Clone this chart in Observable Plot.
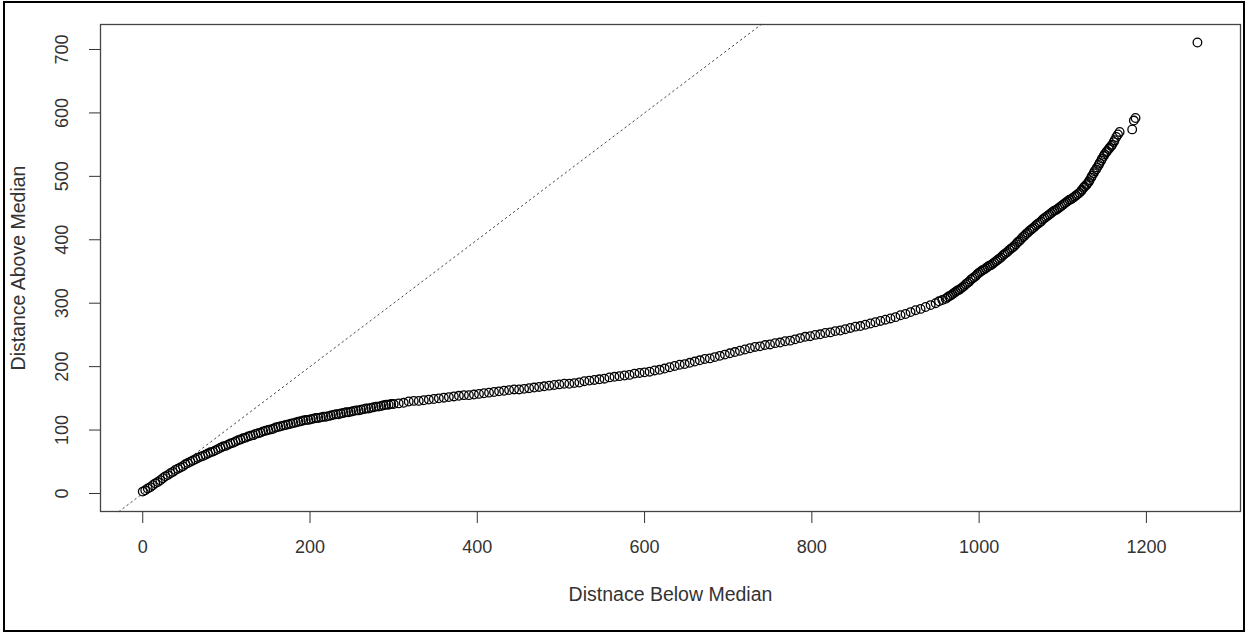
<!DOCTYPE html>
<html>
<head>
<meta charset="utf-8">
<script src="https://cdn.jsdelivr.net/npm/d3@7"></script>
<script src="https://cdn.jsdelivr.net/npm/@observablehq/plot@0.6"></script>
<style>
  html, body { margin: 0; padding: 0; background: #fff; }
  #wrap { position: relative; width: 1247px; height: 632px; overflow: hidden; }
  #outer { position: absolute; left: 3px; top: 1px; width: 1242px; height: 631px; box-sizing: border-box; border: 2px solid #000; pointer-events: none; }
</style>
</head>
<body>
<div id="wrap"><div id="chart"></div><div id="outer"></div></div>
<script>
// Distance below median (x) and distance above median (y)
const below = [
  0,6,12,18,24,30,36,42,48,54,60,66,72,78,84,90,96,102,108,114,120,126,132,138,144,150,156,162,168,174,
  180,186,192,198,204,210,216,222,228,234,240,246,252,258,264,270,276,282,288,294,300,306,312,318,324,330,336,342,348,354,
  360,366,372,378,384,390,396,402,408,414,420,426,432,438,444,450,456,462,468,474,480,486,492,498,504,510,516,522,528,534,
  540,546,552,558,564,570,576,582,588,594,600,606,612,618,624,630,636,642,648,654,660,666,672,678,684,690,696,702,708,714,
  720,726,732,738,744,750,756,762,768,774,780,786,792,798,804,810,816,822,828,834,840,846,852,858,864,870,876,882,888,894,
  900,906,912,918,924,930,936,942,948,952,956,960,964,968,972,976,980,984,988,992,996,1000,1004,1008,1012,1016,1020,1024,1028,1032,
  1036,1040,1044,1048,1052,1056,1060,1064,1068,1072,1076,1080,1084,1088,1092,1096,1100,1104,1108,1112,1116,1120,1123,1126,1129,1132,1135,1138,1141,1144,
  1147,1150,1153,1156,1159,1162,1164,1166,1168,1183,1185,1187,1261
];
const above = [
  3,8,13,18,24,29,34,39,43,48,52,56,59,63,66,70,74,77,80,84,87,90,92,95,98,100,102,105,107,109,
  111,113,115,116,118,119,121,122,124,125,127,128,130,131,133,134,136,137,139,140,141,142,143,145,146,146,147,148,149,150,
  151,152,153,154,155,155,156,157,158,159,160,161,162,163,164,164,165,166,167,168,169,170,171,172,173,173,174,175,177,178,
  179,180,181,183,184,185,186,187,189,190,191,192,194,195,197,199,201,203,204,206,208,210,212,213,215,217,219,221,223,225,
  227,229,231,232,234,235,237,238,240,241,243,245,247,248,250,251,253,254,256,257,259,261,263,264,266,268,270,272,274,276,
  278,281,283,286,289,291,294,297,300,303,305,307,311,314,318,321,325,330,334,339,343,348,352,355,359,362,366,370,375,379,
  384,388,393,398,404,409,414,418,423,427,432,436,440,444,447,451,455,459,463,466,470,474,479,484,488,494,501,508,514,521,
  528,535,540,545,550,557,562,566,570,574,588,592,711
];
// Additional pairs where the reference band is densest (near the origin and on the steep upper part)
const belowDense = [
  3,9,15,21,27,33,39,45,51,57,63,69,75,81,87,93,99,105,111,117,123,129,135,141,147,153,159,165,171,177,
  183,189,195,201,207,213,219,225,231,237,243,249,255,261,267,273,279,285,291,297,
  962,966,970,974,978,982,986,990,994,998,1002,1006,1010,1014,1018,1022,1026,1030,1034,1038,1042,1046,1050,1054,1058,
  1062,1066,1070,1074,1078,1082,1086,1090,1094,1098,1102,1106,1110,1114,1118,1122,1125,1128,1131,1134,1137,1140,1143,1146,1149,
  1152,1155,1158,1161
];
const aboveDense = [
  5,10,16,21,27,32,37,41,46,50,54,58,61,65,68,72,75,79,82,85,88,91,94,96,99,101,104,106,108,110,
  112,114,116,117,119,120,121,123,125,126,128,129,131,132,134,135,137,138,140,141,
  309,312,316,320,323,327,332,337,341,346,350,353,357,360,364,368,372,377,381,386,390,396,401,406,411,
  416,420,425,429,434,438,442,446,449,453,457,461,464,468,472,477,482,486,491,498,505,511,518,525,532,
  538,543,548,554
];
const xTicks = [0, 200, 400, 600, 800, 1000, 1200];
const yTicks = [0, 100, 200, 300, 400, 500, 600, 700];
const xTitle = "Distnace Below Median";
const yTitle = "Distance Above Median";
const diagonal = [-28.4, 739.4]; // reference line y = x

const pts = below.map((b, i) => ({below: b, above: above[i]}))
  .concat(belowDense.map((b, i) => ({below: b, above: aboveDense[i]})));

const chart = Plot.plot({
  width: 1247,
  height: 632,
  marginLeft: 100,
  marginRight: 7,
  marginTop: 24,
  marginBottom: 121,
  style: {
    background: "transparent",
    fontSize: "18px",
    fontFamily: "'Liberation Sans', Arial, sans-serif",
    color: "#333"
  },
  x: {domain: [-50.5, 1312.5], ticks: xTicks, tickSize: 12, tickPadding: 17, tickFormat: "d", label: null},
  y: {domain: [-28.4, 739.4], ticks: yTicks, tickSize: 11, tickFormat: () => "", label: null},
  marks: [
    Plot.frame({stroke: "#444", strokeWidth: 1.3}),
    Plot.line(diagonal, {x: d => d, y: d => d, stroke: "#444", strokeWidth: 1, strokeDasharray: "1.5,3.5"}),
    Plot.dot(pts, {x: "below", y: "above", r: 4.3, stroke: "#000", strokeWidth: 1.3, fill: "none"}),
    Plot.text(yTicks, {y: d => d, text: d => String(d), frameAnchor: "left", dx: -38, rotate: -90,
      textAnchor: "middle", lineAnchor: "middle", fontSize: 18, fill: "#333"}),
    Plot.text([xTitle], {text: d => d, frameAnchor: "bottom", dy: 83, textAnchor: "middle", lineAnchor: "middle", fontSize: 19.5, fill: "#333"}),
    Plot.text([yTitle], {text: d => d, frameAnchor: "left", dx: -82, rotate: -90, textAnchor: "middle", lineAnchor: "middle", fontSize: 19.5, fill: "#333"})
  ]
});
document.getElementById("chart").appendChild(chart);
</script>
</body>
</html>
